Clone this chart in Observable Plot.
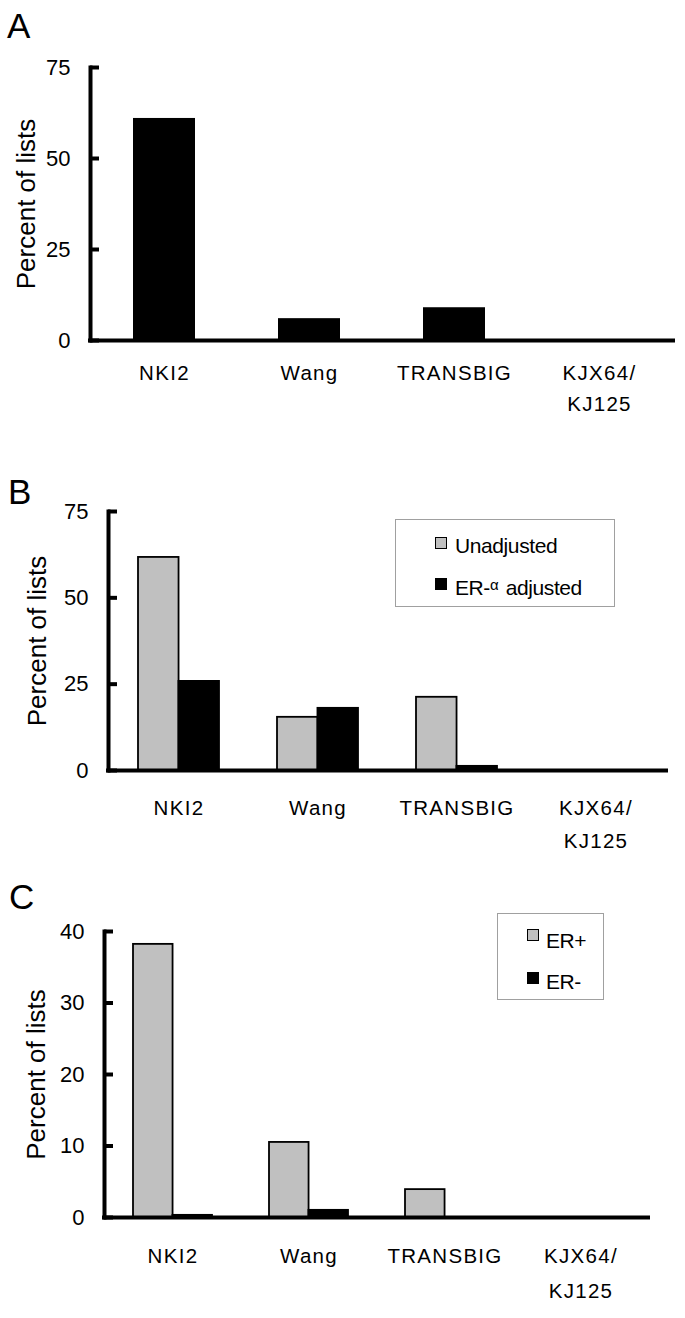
<!DOCTYPE html>
<html><head><meta charset="utf-8">
<script src="https://cdn.jsdelivr.net/npm/d3@7"></script>
<script src="https://cdn.jsdelivr.net/npm/@observablehq/plot@0.6"></script>
<style>
body{margin:0;background:#fff;font-family:"Liberation Sans",Arial,sans-serif;}
#wrap{position:relative;width:685px;height:1318px;overflow:hidden;}
.panel{position:absolute;left:0;}
.letter{position:absolute;font-size:35px;line-height:1;color:#000;}
.legend{position:absolute;border:1px solid #a0a0a0;background:#fff;font-size:21px;letter-spacing:-0.4px;box-sizing:border-box;}
.item{position:absolute;white-space:nowrap;line-height:1;color:#000;}
.sw{position:absolute;width:12px;height:12px;box-sizing:border-box;border:1.5px solid #000;}
g[aria-label="x-axis tick label"] text{letter-spacing:1.3px;font-size:20.5px;}
g[aria-label="y-axis tick label"] text{font-size:22px;}
g[aria-label="y-axis label"] text{font-size:26px;}
</style>
</head>
<body>
<div id="wrap"></div>
<script>
const categories = ["NKI2", "Wang", "TRANSBIG", "KJX64/KJ125"];
const tickLabels = ["NKI2", "Wang", "TRANSBIG", "KJX64/\nKJ125"];
const aValues = [61, 6, 9, 0];
const bUnadjusted = [61.7, 15.4, 21.2, 0];
const bAdjusted = [25.8, 18.0, 1.2, 0];
const cERpos = [38.2, 10.5, 3.9, 0];
const cERneg = [0.3, 1.0, 0, 0];
const yTicksAB = [0, 25, 50, 75];
const yTicksC = [0, 10, 20, 30, 40];
const legendB = ["Unadjusted", "ER-α adjusted"];
const legendC = ["ER+", "ER-"];
const GRAY = "#c0c0c0";

const wrap = document.getElementById("wrap");
const fmt = d => tickLabels[categories.indexOf(d)];

function rows(vals) { return categories.map((c, i) => ({cat: c, v: vals[i]})); }

function panel({top, marginLeft, marginRight, plotHeight, yDomain, yTicks, tickPad, lineH, labelOffset, paddingInner, series}) {
  const marginTop = 67, marginBottom = 95, width = 685;
  const step = (width - marginLeft - marginRight) / categories.length;
  const bw = step * (1 - paddingInner);
  const barMarks = [];
  if (series.length === 1) {
    barMarks.push(Plot.barY(rows(series[0].values), {x: "cat", y: "v", fill: series[0].fill}));
  } else {
    const half = bw / 2;
    series.forEach((s, k) => {
      barMarks.push(Plot.barY(rows(s.values), {
        x: "cat", y: "v", fill: s.fill, stroke: "#000", strokeWidth: 1.8,
        insetLeft: k === 0 ? 0 : half, insetRight: k === 0 ? half : 0
      }));
    });
  }
  const svg = Plot.plot({
    width, height: marginTop + plotHeight + marginBottom,
    marginTop, marginBottom, marginLeft, marginRight,
    style: {fontFamily: '"Liberation Sans", Arial, sans-serif', fontSize: "21px", color: "#000", background: "#fff", overflow: "visible"},
    x: {type: "band", domain: categories, paddingInner, paddingOuter: paddingInner / 2},
    y: {domain: yDomain},
    marks: [
      ...barMarks,
      Plot.ruleY([0], {stroke: "#000", strokeWidth: 4, strokeLinecap: "square"}),
      Plot.frame({anchor: "left", stroke: "#000", strokeWidth: 4, strokeLinecap: "square"}),
      Plot.axisY({ticks: yTicks, tickSize: -9, tickPadding: 29, strokeWidth: 4, label: "Percent of lists", labelAnchor: "center", labelOffset, labelArrow: "none"}),
      Plot.axisX({tickSize: 0, tickPadding: tickPad, tickFormat: fmt, lineHeight: lineH, label: null})
    ]
  });
  svg.classList.add("panel");
  svg.style.top = top + "px";
  wrap.appendChild(svg);
}

function letter(ch, left, top) {
  const d = document.createElement("div");
  d.className = "letter"; d.textContent = ch;
  d.style.left = left + "px"; d.style.top = top + "px";
  wrap.appendChild(d);
}

function legend(box, items) {
  const L = document.createElement("div");
  L.className = "legend";
  Object.assign(L.style, {left: box.left + "px", top: box.top + "px", width: box.w + "px", height: box.h + "px"});
  items.forEach((it, i) => {
    const sw = document.createElement("div");
    sw.className = "sw";
    Object.assign(sw.style, {left: box.swx + "px", top: box.swy[i] + "px", background: it.fill});
    L.appendChild(sw);
    const t = document.createElement("div");
    t.className = "item";
    Object.assign(t.style, {left: box.tx + "px", top: box.ty[i] + "px"});
    if (it.label.includes("α")) {
      const parts = it.label.split("α");
      t.append(parts[0]);
      const s = document.createElement("span");
      s.textContent = "α";
      Object.assign(s.style, {fontSize: "15px", verticalAlign: "5px", marginRight: "2px"});
      t.appendChild(s);
      t.append(parts[1]);
    } else t.textContent = it.label;
    L.appendChild(t);
  });
  wrap.appendChild(L);
}

panel({top: 0, marginLeft: 90, marginRight: 12, plotHeight: 273, yDomain: [0, 75], yTicks: yTicksAB,
  tickPad: 18, lineH: 1.5, labelOffset: 74, paddingInner: 0.57,
  series: [{values: aValues, fill: "#000"}]});
panel({top: 444, marginLeft: 108, marginRight: 19, plotHeight: 259, yDomain: [0, 75], yTicks: yTicksAB,
  tickPad: 20, lineH: 1.65, labelOffset: 81, paddingInner: 0.42,
  series: [{values: bUnadjusted, fill: GRAY}, {values: bAdjusted, fill: "#000"}]});
panel({top: 864, marginLeft: 104, marginRight: 37, plotHeight: 286, yDomain: [0, 40], yTicks: yTicksC,
  tickPad: 21, lineH: 1.7, labelOffset: 78, paddingInner: 0.42,
  series: [{values: cERpos, fill: GRAY}, {values: cERneg, fill: "#000"}]});

letter("A", 7, 8);
letter("B", 8, 474);
letter("C", 9, 879);

legend({left: 395, top: 519, w: 220, h: 88, swx: 39, swy: [17, 58], tx: 59, ty: [15, 57]},
  [{label: legendB[0], fill: GRAY}, {label: legendB[1], fill: "#000"}]);
legend({left: 497, top: 913, w: 107, h: 87, swx: 29, swy: [15, 58], tx: 48, ty: [16, 57]},
  [{label: legendC[0], fill: GRAY}, {label: legendC[1], fill: "#000"}]);
</script>
</body></html>
